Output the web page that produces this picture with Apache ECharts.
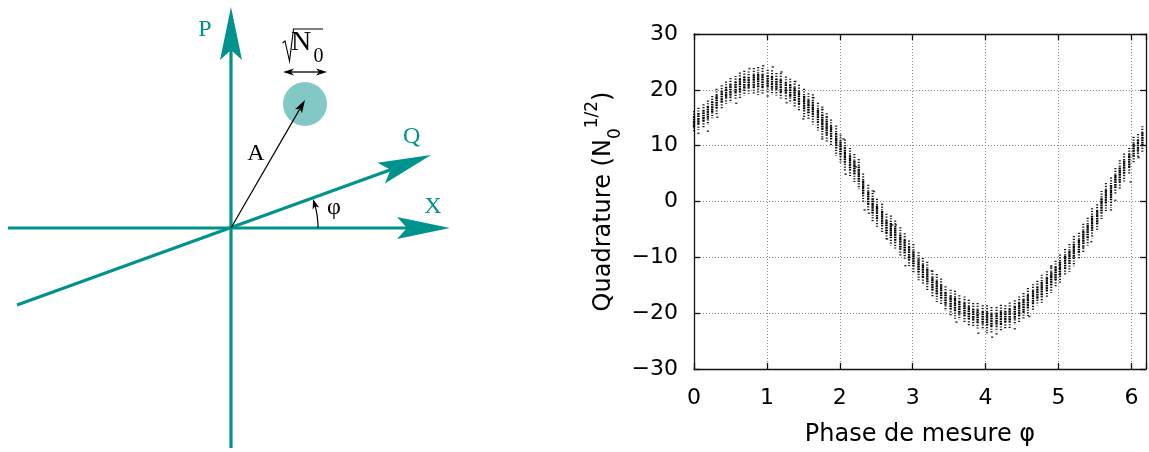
<!DOCTYPE html>
<html>
<head>
<meta charset="utf-8">
<script src="https://cdn.jsdelivr.net/npm/echarts@6/dist/echarts.min.js"></script>
<style>
html,body{margin:0;padding:0;background:#fff;}
#chart{width:1149px;height:452px;}
</style>
</head>
<body>
<div id="chart"></div>
<script>
// ---------- measured data (right panel) ----------
const phase = [
  0.00,0.06,0.13,0.19,0.25,0.31,0.38,0.44,0.50,0.57,
  0.63,0.69,0.75,0.82,0.88,0.94,1.01,1.07,1.13,1.19,
  1.26,1.32,1.38,1.44,1.51,1.57,1.63,1.70,1.76,1.82,
  1.88,1.95,2.01,2.07,2.14,2.20,2.26,2.32,2.39,2.45,
  2.51,2.58,2.64,2.70,2.76,2.83,2.89,2.95,3.01,3.08,
  3.14,3.20,3.27,3.33,3.39,3.45,3.52,3.58,3.64,3.71,
  3.77,3.83,3.89,3.96,4.02,4.08,4.15,4.21,4.27,4.33,
  4.40,4.46,4.52,4.58,4.65,4.71,4.77,4.84,4.90,4.96,
  5.02,5.09,5.15,5.21,5.28,5.34,5.40,5.46,5.53,5.59,
  5.65,5.72,5.78,5.84,5.90,5.97,6.03,6.09,6.15
];
const quadratureCenter = [
  14.3,14.8,15.3,15.9,16.9,17.9,18.7,19.5,19.9,20.4,
  20.8,21.2,21.3,21.5,21.6,21.6,21.5,21.3,21.0,20.7,
  20.3,19.8,19.2,18.6,17.6,17.0,16.5,15.2,14.2,13.2,
  12.3,10.9,9.5,8.3,7.0,6.0,4.9,2.4,0.6,-0.8,
  -2.0,-3.0,-4.5,-5.2,-5.9,-7.2,-8.1,-9.3,-10.2,-11.6,
  -12.5,-13.4,-14.7,-15.5,-16.2,-17.4,-18.1,-18.5,-19.0,-19.4,
  -19.9,-20.3,-20.6,-20.8,-21.1,-21.2,-21.1,-20.9,-20.7,-20.4,
  -19.9,-19.4,-18.7,-18.0,-17.2,-16.4,-15.7,-14.9,-13.9,-12.9,
  -12.1,-10.9,-10.1,-8.9,-8.0,-6.6,-5.4,-3.9,-2.9,-0.7,
  0.8,1.6,3.6,4.8,6.1,7.3,9.2,9.9,11.2
];
const quadratureSpread = [
  1.9,2.0,2.1,2.2,2.0,2.3,2.1,2.0,2.2,2.1,
  2.3,2.2,2.0,2.4,2.5,2.3,2.1,2.2,2.0,2.3,
  2.1,2.2,2.4,2.3,2.6,2.4,2.7,2.5,2.8,2.6,
  2.4,2.7,2.5,2.8,2.6,2.5,2.7,2.6,2.4,2.8,
  2.5,2.6,2.3,2.7,2.5,2.6,2.4,2.3,2.6,2.5,
  2.4,2.6,2.3,2.5,2.4,2.2,2.3,2.5,2.2,2.4,
  2.3,2.1,2.4,2.2,2.5,2.3,2.2,2.4,2.1,2.3,
  2.2,2.4,2.3,2.5,2.4,2.2,2.6,2.4,2.5,2.3,
  2.6,2.4,2.5,2.7,2.4,2.6,2.5,2.7,2.4,2.6,
  2.5,2.7,2.4,2.6,2.5,2.3,2.4,2.2,2.3
];
const outlierPhase = [0.06,0.19,0.32,0.58,0.76,0.95,1.01,1.08,1.20,1.27,1.39,1.50,1.64,1.76,1.76,1.82,2.05,2.08,2.22,2.34,2.40,2.47,2.65,2.72,2.77,2.90,3.26,3.60,3.90,4.09,4.15,4.40,4.60,4.90,5.34,5.45,5.72,5.78,5.99,6.10];
const outlierValue = [12.2,12.6,15.1,17.6,23.8,24.3,18.9,24.1,23.2,17.7,21.5,14.8,18.6,16.5,11.2,15.1,11.2,4.9,6.2,-1.5,-2.1,1.8,-6.7,-4.2,-4.2,-11.5,-12.4,-21.6,-23.6,-24.3,-23.7,-22.8,-20.6,-11.7,-8.2,-7.2,-1.5,0.2,3.5,7.9];
const xTicks = [0,1,2,3,4,5,6];
const yTicks = [-30,-20,-10,0,10,20,30];

// ---------- schematic geometry (left panel, diagram units) ----------
const axisX = [[-22.3,0],[21.9,0]];
const axisP = [[0,-22.0],[0,22.1]];
const axisQ = [[-21.4,-7.7],[20.0,7.3]];
const vectorA = [[0,0],[7.4,12.8]];
const diskCenter = [7.4,12.4];
const diskRadius = 2.2;
const widthBar = [[5.2,15.6],[9.6,15.6]];
const arcRadius = 8.7;
const arcEndDeg = 19.5;
const sqrtSign = [[5.15,18.5],[5.4,18.7],[5.85,16.7],[6.25,19.9],[9.2,19.9]];
const labelText = ['P','Q','X','A','\u03c6'];
const labelPos = [[-2.6,19.8],[18.07,9.13],[20.2,2.1],[2.5,7.4],[10.3,2.0]];
const labelTeal = [true,true,true,false,false];

const TEAL = '#00928c';
const DISK = '#82c8c4';
const SANS = '"DejaVu Sans", sans-serif';
const SERIF = '"Liberation Serif", "DejaVu Serif", serif';

function minusFmt(v){ return v < 0 ? '\u2212' + Math.abs(v) : String(v); }

function arrowHead(tip, from, L, W, notch){
  const dx = tip[0]-from[0], dy = tip[1]-from[1];
  const len = Math.hypot(dx,dy); const ux = dx/len, uy = dy/len;
  const nx = -uy, ny = ux;
  const bx = tip[0]-L*ux, by = tip[1]-L*uy;
  return {
    points: [tip,[bx+W*nx,by+W*ny],[tip[0]-(L-notch)*ux, tip[1]-(L-notch)*uy],[bx-W*nx,by-W*ny]],
    neck: [tip[0]-(L-notch)*ux, tip[1]-(L-notch)*uy]
  };
}

function renderDiagram(params, api){
  const C = p => api.coord(p);
  const kids = [];
  const dc = C(diskCenter);
  const unit = api.size([1,1]);
  kids.push({type:'circle', shape:{cx:dc[0], cy:dc[1], r:diskRadius*unit[0]}, style:{fill:DISK}});
  [axisX, axisP, axisQ].forEach(seg => {
    const a = C(seg[0]), b = C(seg[1]);
    const h = arrowHead(b, a, 53, 11, 10);
    kids.push({type:'line', shape:{x1:a[0],y1:a[1],x2:h.neck[0],y2:h.neck[1]}, style:{stroke:TEAL, lineWidth:3.2}});
    kids.push({type:'polygon', shape:{points:h.points}, style:{fill:TEAL}});
  });
  {
    const a = C(vectorA[0]), b = C(vectorA[1]);
    const h = arrowHead(b, a, 13, 4, 3);
    kids.push({type:'line', shape:{x1:a[0],y1:a[1],x2:h.neck[0],y2:h.neck[1]}, style:{stroke:'#000', lineWidth:1.2}});
    kids.push({type:'polygon', shape:{points:h.points}, style:{fill:'#000'}});
  }
  {
    const a = C(widthBar[0]), b = C(widthBar[1]);
    const h1 = arrowHead(b, a, 11, 3.6, 3), h2 = arrowHead(a, b, 11, 3.6, 3);
    kids.push({type:'line', shape:{x1:h2.neck[0],y1:h2.neck[1],x2:h1.neck[0],y2:h1.neck[1]}, style:{stroke:'#000', lineWidth:1.3}});
    kids.push({type:'polygon', shape:{points:h1.points}, style:{fill:'#000'}});
    kids.push({type:'polygon', shape:{points:h2.points}, style:{fill:'#000'}});
  }
  {
    const pts = [];
    for (let d = 0; d <= arcEndDeg - 4; d += 0.5) {
      const r = d*Math.PI/180;
      pts.push(C([arcRadius*Math.cos(r), arcRadius*Math.sin(r)]));
    }
    const te = arcEndDeg*Math.PI/180;
    const tip = C([arcRadius*Math.cos(te), arcRadius*Math.sin(te)]);
    const back = C([arcRadius*Math.cos(te-0.09), arcRadius*Math.sin(te-0.09)]);
    const h = arrowHead(tip, back, 10, 3.4, 2.5);
    pts.push(h.neck);
    kids.push({type:'polyline', shape:{points:pts}, style:{stroke:'#000', lineWidth:1.2, fill:null}});
    kids.push({type:'polygon', shape:{points:h.points}, style:{fill:'#000'}});
  }
  kids.push({type:'polyline', shape:{points:sqrtSign.map(C)}, style:{stroke:'#000', lineWidth:1.1, fill:null}});
  const nPos = C([7.0,18.55]), zPos = C([8.75,17.15]);
  kids.push({type:'text', style:{text:'N', x:nPos[0], y:nPos[1], fill:'#000', fontSize:28, fontFamily:SERIF, align:'center', verticalAlign:'middle'}});
  kids.push({type:'text', style:{text:'0', x:zPos[0], y:zPos[1], fill:'#000', fontSize:20, fontFamily:SERIF, align:'center', verticalAlign:'middle'}});
  labelText.forEach((t,i) => {
    const p = C(labelPos[i]);
    kids.push({type:'text', style:{text:t, x:p[0], y:p[1], fill: labelTeal[i] ? TEAL : '#000', fontSize:24, fontFamily:SERIF, align:'center', verticalAlign:'middle'}});
  });
  return {type:'group', children:kids};
}

function renderColumn(params, api){
  const x = api.value(0), c = api.value(1), s = api.value(2);
  const t = api.coord([x, c+s]), b = api.coord([x, c-s]);
  const it = api.coord([x, c+0.5*s]), ib = api.coord([x, c-0.5*s]);
  return {type:'group', children:[
    {type:'line', shape:{x1:t[0],y1:t[1],x2:b[0],y2:b[1]}, style:{stroke:'#1a1a1a', lineWidth:2.1, lineDash:[1.2,1.5]}},
    {type:'line', shape:{x1:it[0],y1:it[1],x2:ib[0],y2:ib[1]}, style:{stroke:'#000', lineWidth:2.3, lineDash:[1.5,0.8]}}
  ]};
}

const chart = echarts.init(document.getElementById('chart'), null, {renderer:'canvas'});
const axisLineStyle = {color:'#111', width:1.3};
const gridLineStyle = {color:'#8a8a8a', width:1, type:[1,2]};

chart.setOption({
  animation:false,
  backgroundColor:'#fff',
  grid:[
    {left:694, top:34, width:455, height:338, show:false},
    {left:0, top:0, width:460, height:452, show:false}
  ],
  xAxis:[
    {gridIndex:0, type:'value', min:0, max:6.2, interval:1,
     axisLine:{show:true, onZero:false, lineStyle:axisLineStyle},
     axisTick:{show:true, inside:true, length:6, lineStyle:axisLineStyle},
     axisLabel:{show:true, margin:18, color:'#000', fontSize:22, fontFamily:SANS,
       formatter: v => xTicks.indexOf(v) >= 0 ? String(v) : ''},
     splitLine:{show:true, lineStyle:gridLineStyle},
     name:'Phase de mesure \u03c6', nameLocation:'middle', nameGap:54,
     nameTextStyle:{color:'#000', fontSize:24, fontFamily:SANS}},
    {gridIndex:0, type:'value', min:0, max:6.2, interval:1, position:'top',
     axisLine:{show:true, onZero:false, lineStyle:axisLineStyle},
     axisTick:{show:true, inside:true, length:6, lineStyle:axisLineStyle},
     axisLabel:{show:false}, splitLine:{show:false}},
    {gridIndex:1, type:'value', min:-23.1, max:22.9, show:false}
  ],
  yAxis:[
    {gridIndex:0, type:'value', min:-30, max:30, interval:10,
     axisLine:{show:true, onZero:false, lineStyle:axisLineStyle},
     axisTick:{show:true, inside:true, length:6, lineStyle:axisLineStyle},
     axisLabel:{show:true, margin:16, color:'#000', fontSize:22, fontFamily:SANS,
       formatter: v => yTicks.indexOf(v) >= 0 ? minusFmt(v) : ''},
     splitLine:{show:true, lineStyle:gridLineStyle},
     name:'{m|Quadrature (N}{sub|0}{sup|1/2}{m|)}', nameLocation:'middle', nameRotate:90, nameGap:70,
     nameTextStyle:{color:'#000', fontSize:24, fontFamily:SANS,
       rich:{
         m:{fontSize:24, fontFamily:SANS, color:'#000', lineHeight:40, verticalAlign:'middle'},
         sub:{fontSize:17, fontFamily:SANS, color:'#000', lineHeight:22, verticalAlign:'bottom'},
         sup:{fontSize:17, fontFamily:SANS, color:'#000', lineHeight:18, verticalAlign:'top'}
       }}},
    {gridIndex:0, type:'value', min:-30, max:30, interval:10, position:'right',
     axisLine:{show:true, onZero:false, lineStyle:axisLineStyle},
     axisTick:{show:true, inside:true, length:6, lineStyle:axisLineStyle},
     axisLabel:{show:false}, splitLine:{show:false}},
    {gridIndex:1, type:'value', min:-22.4, max:22.8, show:false}
  ],
  series:[
    {type:'custom', xAxisIndex:0, yAxisIndex:0, silent:true, z:3,
     renderItem: renderColumn,
     encode:{x:0, y:1},
     data: phase.map((p,i) => [p, quadratureCenter[i], quadratureSpread[i]])},
    {type:'scatter', xAxisIndex:0, yAxisIndex:0, silent:true, z:3,
     symbol:'rect', symbolSize:[2.2,1.6], itemStyle:{color:'#111'},
     data: outlierPhase.map((p,i) => [p, outlierValue[i]])},
    {type:'custom', xAxisIndex:2, yAxisIndex:2, silent:true, z:2,
     renderItem: renderDiagram, data:[[0,0]]}
  ]
});
</script>
</body>
</html>
